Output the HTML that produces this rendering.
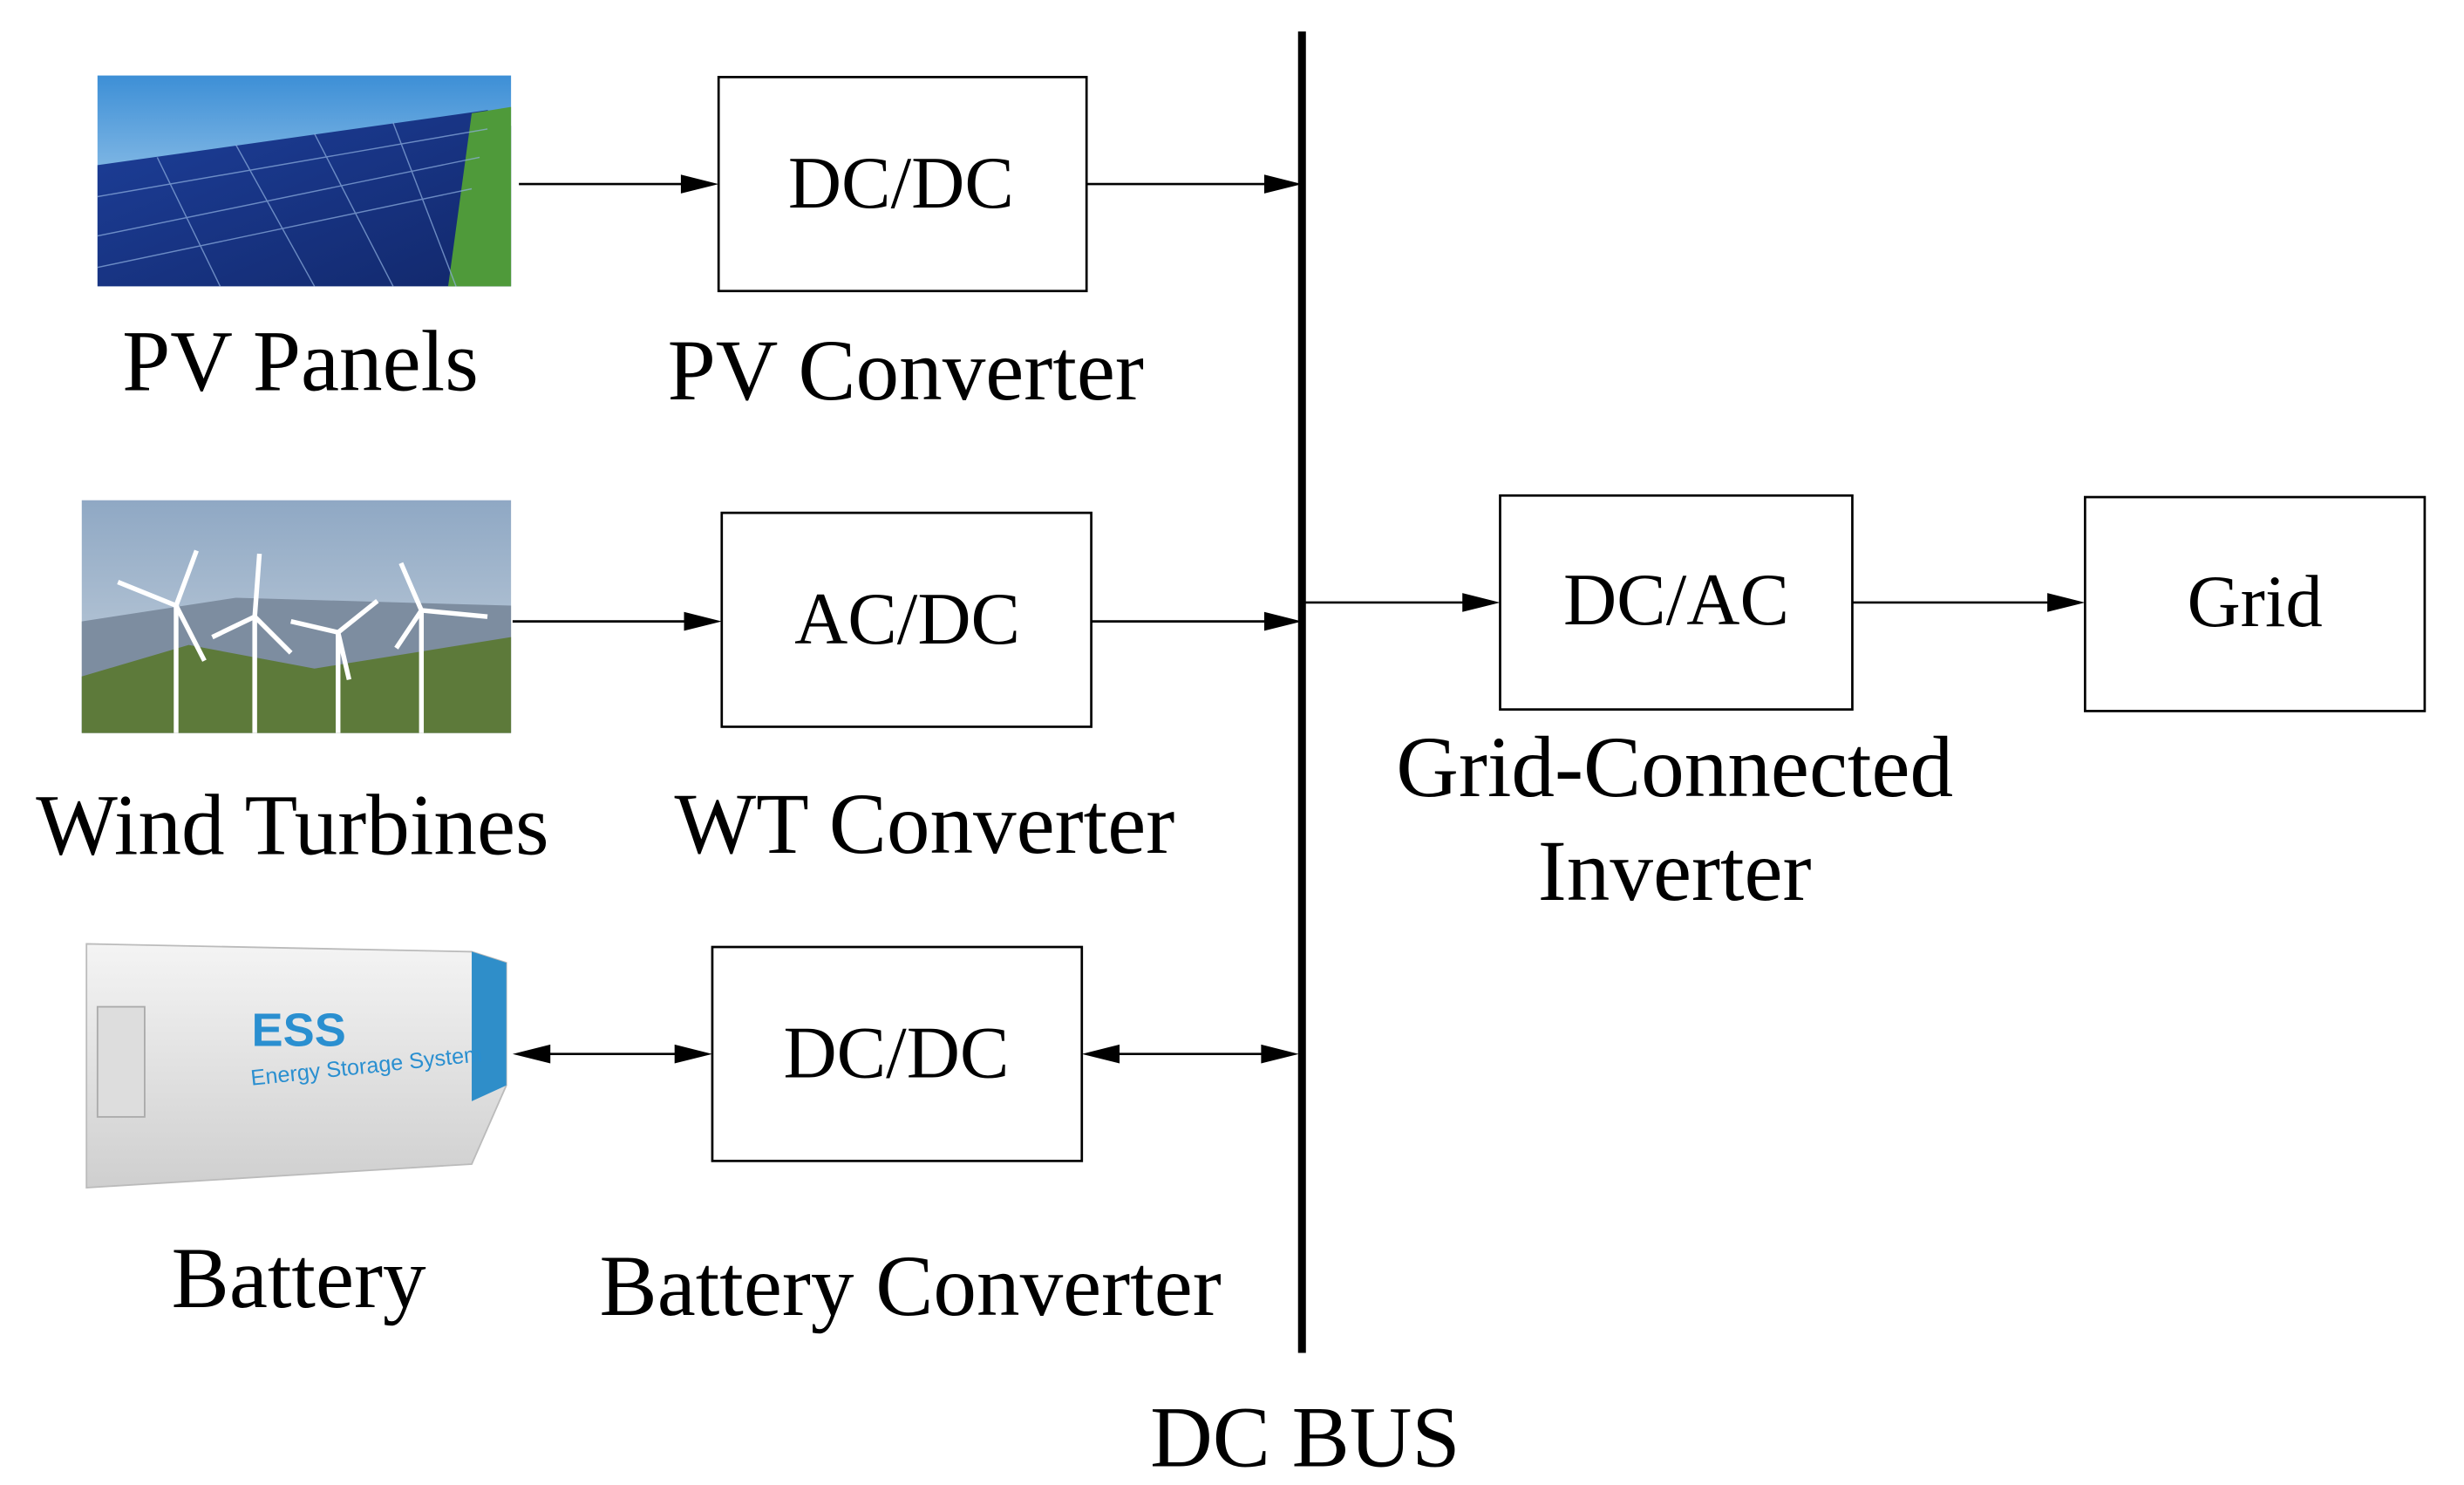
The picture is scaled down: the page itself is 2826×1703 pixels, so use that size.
<!DOCTYPE html>
<html><head><meta charset="utf-8"><style>
html,body{margin:0;padding:0;background:#fff;}
svg{display:block;}
text{font-family:"Liberation Serif",serif;fill:#000;}
</style></head><body>
<svg width="2826" height="1703" viewBox="0 0 1567 944" preserveAspectRatio="none" xmlns="http://www.w3.org/2000/svg">
<defs>
<linearGradient id="sky" x1="0" y1="0" x2="0" y2="1"><stop offset="0" stop-color="#3d8fd6"/><stop offset="1" stop-color="#cfe6f5"/></linearGradient>
<linearGradient id="panel" x1="0" y1="0" x2="1" y2="1"><stop offset="0" stop-color="#1d3f9a"/><stop offset="1" stop-color="#12286b"/></linearGradient>
<linearGradient id="wsky" x1="0" y1="0" x2="0" y2="1"><stop offset="0" stop-color="#8fa8c4"/><stop offset="1" stop-color="#c9d4de"/></linearGradient>
<linearGradient id="cont" x1="0" y1="0" x2="0" y2="1"><stop offset="0" stop-color="#f4f4f4"/><stop offset="1" stop-color="#cfcfcf"/></linearGradient>
</defs>
<rect x="62" y="48" width="263" height="134" fill="url(#sky)"/>
<polygon points="62,105 310,70 325,80 325,182 62,182" fill="url(#panel)"/>
<polygon points="300,72 325,68 325,182 285,182" fill="#4f9a3a"/>
<g stroke="#8fb0e0" stroke-width="0.8" opacity="0.7">
<line x1="62" y1="125" x2="310" y2="82"/><line x1="62" y1="150" x2="305" y2="100"/><line x1="62" y1="170" x2="300" y2="120"/>
<line x1="100" y1="100" x2="140" y2="182"/><line x1="150" y1="92" x2="200" y2="182"/><line x1="200" y1="85" x2="250" y2="182"/><line x1="250" y1="78" x2="290" y2="182"/>
</g>
<rect x="52" y="318" width="273" height="148" fill="url(#wsky)"/>
<polygon points="52,395 150,380 325,385 325,466 52,466" fill="#7d8da0"/>
<polygon points="52,430 120,410 200,425 325,405 325,466 52,466" fill="#5d7a3a"/>
<g stroke="#fff" stroke-width="3" fill="none">
<line x1="112" y1="385" x2="112" y2="466"/><line x1="112" y1="385" x2="75" y2="370"/><line x1="112" y1="385" x2="130" y2="420"/><line x1="112" y1="385" x2="125" y2="350"/>
<line x1="162" y1="392" x2="162" y2="466"/><line x1="162" y1="392" x2="165" y2="352"/><line x1="162" y1="392" x2="135" y2="405"/><line x1="162" y1="392" x2="185" y2="415"/>
<line x1="215" y1="402" x2="215" y2="466"/><line x1="215" y1="402" x2="240" y2="382"/><line x1="215" y1="402" x2="185" y2="395"/><line x1="215" y1="402" x2="222" y2="432"/>
<line x1="268" y1="388" x2="268" y2="466"/><line x1="268" y1="388" x2="255" y2="358"/><line x1="268" y1="388" x2="310" y2="392"/><line x1="268" y1="388" x2="252" y2="412"/>
</g>
<polygon points="55,600 300,605 322,612 322,690 300,740 55,755" fill="url(#cont)" stroke="#bbb"/>
<polygon points="300,605 322,612 322,690 300,700" fill="#2f8ec9"/>
<rect x="62" y="640" width="30" height="70" fill="#ddd" stroke="#aaa"/>
<text x="160" y="665" style="font-family:'Liberation Sans',sans-serif;font-weight:bold;font-size:30px;fill:#2a8fd0">ESS</text>
<text x="160" y="690" transform="rotate(-6 160 690)" style="font-family:'Liberation Sans',sans-serif;font-size:14px;fill:#2a8fd0">Energy Storage System</text>
<g stroke="#000" stroke-width="1.5" fill="none">
<line x1="330" y1="117" x2="445" y2="117"/>
<line x1="691" y1="117" x2="816" y2="117"/>
<line x1="326" y1="395" x2="447" y2="395"/>
<line x1="694" y1="395" x2="816" y2="395"/>
<line x1="338" y1="670" x2="441" y2="670"/>
<line x1="700" y1="670" x2="814" y2="670"/>
<line x1="830" y1="383" x2="942" y2="383"/>
<line x1="1178" y1="383" x2="1314" y2="383"/>
<rect x="457" y="49" width="234" height="136"/>
<rect x="459" y="326" width="235" height="136"/>
<rect x="453" y="602" width="235" height="136"/>
<rect x="954" y="315" width="224" height="136"/>
<rect x="1326" y="316" width="216" height="136"/>
</g>
<line x1="828" y1="20" x2="828" y2="860" stroke="#000" stroke-width="5"/>
<g fill="#000">
<polygon points="457,117 433,111 433,123"/>
<polygon points="828,117 804,111 804,123"/>
<polygon points="459,395 435,389 435,401"/>
<polygon points="828,395 804,389 804,401"/>
<polygon points="453,670 429,664 429,676"/>
<polygon points="326,670 350,664 350,676"/>
<polygon points="826,670 802,664 802,676"/>
<polygon points="688,670 712,664 712,676"/>
<polygon points="954,383 930,377 930,389"/>
<polygon points="1326,383 1302,377 1302,389"/>
</g>
<g font-size="47" text-anchor="middle">
<text x="573" y="132">DC/DC</text>
<text x="577" y="409">AC/DC</text>
<text x="570" y="685">DC/DC</text>
<text x="1066" y="397">DC/AC</text>
<text x="1434" y="398">Grid</text>
</g>
<g font-size="55" text-anchor="middle">
<text x="191" y="248">PV Panels</text>
<text x="576" y="254">PV Converter</text>
<text x="186" y="543">Wind Turbines</text>
<text x="588" y="542">WT Converter</text>
<text x="190" y="831">Battery</text>
<text x="579" y="836">Battery Converter</text>
<text x="1065" y="506">Grid-Connected</text>
<text x="1065" y="572">Inverter</text>
<text x="830" y="932">DC BUS</text>
</g>
</svg>
</body></html>
